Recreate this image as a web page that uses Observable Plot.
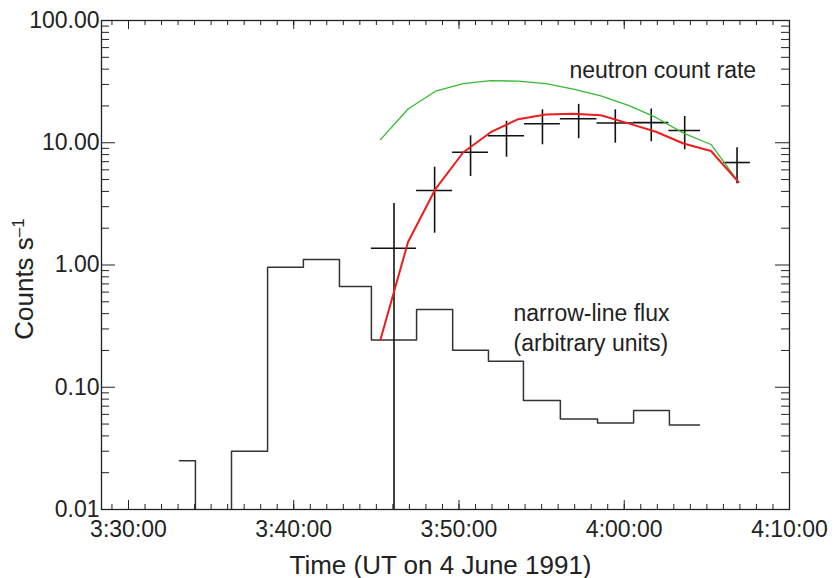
<!DOCTYPE html>
<html><head><meta charset="utf-8">
<script src="https://cdn.jsdelivr.net/npm/d3@7"></script>
<script src="https://cdn.jsdelivr.net/npm/@observablehq/plot@0.6"></script>
<style>
body{margin:0;background:#fff;}
svg{font-family:"Liberation Sans",Arial,Helvetica,sans-serif;}
</style></head><body><div id="chart"></div>
<script>
// ---- Narrow-line flux histogram (bin edges, UT, and value per bin) ----
const histEdges = ["3:33:05","3:34:03","3:36:14","3:38:25","3:40:35","3:42:46","3:44:42","3:47:26","3:49:37","3:51:47","3:53:54","3:56:08","3:58:23","4:00:34","4:02:44","4:04:33"];
const histValues = [0.025, 0.001, 0.030, 0.96, 1.11, 0.667, 0.244, 0.433, 0.201, 0.163, 0.078, 0.055, 0.051, 0.0645, 0.049]; // 0.001 = below plotted range

// ---- Neutron count rate measurements (time bin, value, error range) ----
const binStart = ["3:44:42","3:47:26","3:49:37","3:51:47","3:53:58","3:56:08","3:58:21","4:00:34","4:02:42","4:06:01"];
const binEnd   = ["3:47:26","3:49:37","3:51:47","3:53:58","3:56:08","3:58:21","4:00:34","4:02:42","4:04:37","4:07:38"];
const rate     = [1.37, 4.07, 8.37, 11.4, 14.3, 15.7, 14.5, 14.6, 12.6, 6.89];
const rateLow  = [0.001, 1.82, 5.30, 7.62, 9.62, 10.8, 9.92, 10.2, 8.76, 4.62];
const rateHigh = [3.18, 6.31, 11.4, 15.0, 18.6, 20.6, 18.6, 18.9, 16.4, 9.1];

// ---- Model curves ----
const modelTimes = ["3:45:15","3:46:55","3:48:35","3:50:15","3:51:55","3:53:35","3:55:15","3:56:55","3:58:35","4:00:15","4:01:55","4:03:35","4:05:15","4:06:55"];
const greenValues = [10.6, 18.9, 26.4, 30.4, 32.2, 31.9, 30.4, 27.5, 24.2, 20.2, 16.1, 12.0, 9.68, 4.76];
const redValues   = [0.246, 1.54, 4.20, 8.32, 12.2, 15.6, 17.0, 17.3, 16.8, 14.4, 12.3, 9.86, 8.56, 4.76];

// ---- Axes ----
const xDomain = ["3:28:22","4:10:00"];
const xMajorLabels = ["3:30:00","3:40:00","3:50:00","4:00:00","4:10:00"];
const yMajor = [0.01, 0.1, 1, 10, 100];
const yMinorFactors = [2,3,4,5,6,7,8,9];
const xTitle = "Time (UT on 4 June 1991)";
const yTitle = "Counts s";
const yTitleExponent = "\u20131";

// ---- Annotations ----
const notes = [
  {t: "3:56:41", v: 40.5, text: "neutron count rate"},
  {t: "3:53:18", v: 0.317, text: "narrow-line flux\n(arbitrary units)"}
];

const t = s => { const [h,m,sec] = s.split(":").map(Number); return new Date(Date.UTC(1991,5,4,h,m,sec)); };

const W = 836, H = 578, mL = 101, mR = 47, mT = 20, mB = 69;
const fw = W - mL - mR, fh = H - mT - mB;

const hist = histEdges.map((e,i) => ({t: t(e), v: histValues[Math.min(i, histValues.length-1)]}));
const cross = rate.map((v,i) => {
  const a = t(binStart[i]), b = t(binEnd[i]);
  return {t0: a, t1: b, tm: new Date((+a + +b)/2), v, lo: rateLow[i], hi: rateHigh[i]};
});
const model = modelTimes.map((s,i) => ({t: t(s), g: greenValues[i], r: redValues[i]}));
const xMajor = xMajorLabels.map(t);
const xMinor = d3.utcMinute.range(t("3:29:00"), t("4:10:00"));
const yMinor = yMajor.slice(0, -1).flatMap(d => yMinorFactors.map(k => d * k));
const noteData = notes.map(n => ({...n, t: t(n.t)}));

const tickColor = "#222";
const chart = Plot.plot({
  width: W, height: H,
  marginLeft: mL, marginRight: mR, marginTop: mT, marginBottom: mB,
  style: {fontSize: "23px", fontFamily: "'Liberation Sans', Arial, sans-serif", color: "#222", background: "#fff"},
  x: {type: "utc", domain: xDomain.map(t), ticks: xMajor, tickSize: 0, tickPadding: 11,
      tickFormat: d3.utcFormat("%-H:%M:%S"), label: null},
  y: {type: "log", domain: [0.01, 100], ticks: yMajor, tickSize: 0, tickPadding: 2,
      tickFormat: d3.format(".2f"), label: null},
  marks: [
    // inward ticks on all four sides
    Plot.ruleX(xMinor, {x: d => d, insetTop: fh - 5, stroke: tickColor}),
    Plot.ruleX(xMinor, {x: d => d, insetBottom: fh - 5, stroke: tickColor}),
    Plot.ruleX(xMajor, {x: d => d, insetTop: fh - 9, stroke: tickColor}),
    Plot.ruleX(xMajor, {x: d => d, insetBottom: fh - 9, stroke: tickColor}),
    Plot.ruleY(yMinor, {y: d => d, insetRight: fw - 8, stroke: tickColor}),
    Plot.ruleY(yMinor, {y: d => d, insetLeft: fw - 8, stroke: tickColor}),
    Plot.ruleY(yMajor, {y: d => d, insetRight: fw - 14, stroke: tickColor}),
    Plot.ruleY(yMajor, {y: d => d, insetLeft: fw - 14, stroke: tickColor}),
    // narrow-line flux histogram
    Plot.line(hist, {x: "t", y: "v", curve: "step-after", stroke: "#333", strokeWidth: 1.5, clip: true}),
    // neutron data crosses
    Plot.ruleY(cross, {y: "v", x1: "t0", x2: "t1", stroke: "#111", strokeWidth: 1.6, clip: true}),
    Plot.ruleX(cross, {x: "tm", y1: "lo", y2: "hi", stroke: "#111", strokeWidth: 1.6, clip: true}),
    // model curves
    Plot.line(model, {x: "t", y: "g", stroke: "#33bb33", strokeWidth: 1.3}),
    Plot.line(model, {x: "t", y: "r", stroke: "#ee1c1c", strokeWidth: 2}),
    // annotations
    Plot.text(noteData, {x: "t", y: "v", text: "text", textAnchor: "start", lineHeight: 1.3, fill: "#222", fontSize: 23}),
    // axis titles
    Plot.text([xTitle], {frameAnchor: "bottom", textAnchor: "middle", dx: -5, dy: 64, fontSize: 26, fill: "#222"}),
    Plot.text([yTitle], {frameAnchor: "left", textAnchor: "middle", dx: -77, dy: 14, rotate: -90, fontSize: 26, fill: "#222"}),
    Plot.frame({stroke: "#222", strokeWidth: 1.3})
  ]
});
document.getElementById("chart").appendChild(chart);
// superscript exponent on the y title
d3.select(chart).selectAll("text").filter(function() { return this.textContent === yTitle; })
  .append("tspan").attr("dy", "-0.5em").attr("font-size", "17px").text(yTitleExponent);
</script></body></html>
